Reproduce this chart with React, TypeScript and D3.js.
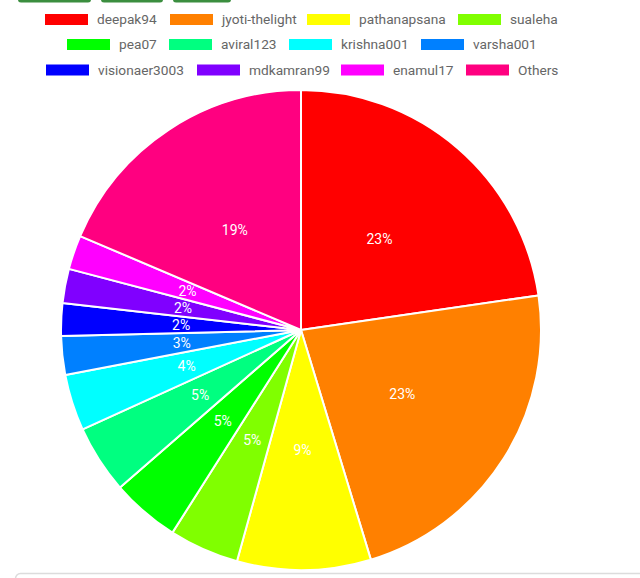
import React from "react";
import * as d3 from "d3";

const categories = [
  "deepak94", "jyoti-thelight", "pathanapsana", "sualeha",
  "pea07", "aviral123", "krishna001", "varsha001",
  "visionaer3003", "mdkamran99", "enamul17", "Others",
];
const values = [22.7, 22.6, 9.0, 4.7, 4.6, 4.6, 3.8, 2.6, 2.2, 2.3, 2.3, 18.6];
const colors = [
  "#ff0000", "#ff8000", "#ffff00", "#80ff00",
  "#00ff00", "#00ff80", "#00ffff", "#0080ff",
  "#0000ff", "#8000ff", "#ff00ff", "#ff0080",
];

const W = 640, H = 578;
const cx = 301, cy = 330, R = 240;
const boxW = 43, boxH = 11, boxGap = 9;
const legendY = [19.5, 44.5, 70];
const legendX = [[45, 170, 307, 458], [67, 169, 289, 421], [46, 197, 341, 466]];
const font = "Roboto, 'Noto Sans', sans-serif";

export default function App() {
  const total = d3.sum(values);
  const pie = d3.pie<number>().sort(null).value((d) => d);
  const arcs = pie(values);
  const arc = d3.arc<d3.PieArcDatum<number>>().innerRadius(0).outerRadius(R);
  const labelArc = d3.arc<d3.PieArcDatum<number>>().innerRadius(R / 2).outerRadius(R / 2);

  const legend = categories.map((c, i) => {
    const r = Math.floor(i / 4), k = i % 4;
    return { i, x: legendX[r][k], y: legendY[r] };
  });

  return (
    <svg width={W} height={H} style={{ position: "absolute", left: 0, top: 0, display: "block", background: "#fff" }}>
      {[[18, 91], [101, 163], [173, 231]].map(([a, b], k) => (
        <rect key={k} x={a} y={-8} width={b - a} height={10.5} rx={3} fill="#3b8e3f" />
      ))}
      {legend.map(({ i, x, y }) => (
        <g key={i}>
          <rect x={x} y={y - boxH / 2} width={boxW} height={boxH} fill={colors[i]} />
          <text x={x + boxW + boxGap} y={y} dy="0.35em" fontFamily={font} fontSize={13.7} fill="#666">
            {categories[i]}
          </text>
        </g>
      ))}
      <g transform={`translate(${cx},${cy})`}>
        {arcs.map((a, i) => (
          <path key={i} d={arc(a)!} fill={colors[i]} stroke="#fff" strokeWidth={2} strokeLinejoin="round" />
        ))}
        {arcs.map((a, i) => {
          const [lx, ly] = labelArc.centroid(a);
          return (
            <text key={i} x={lx} y={ly} dy="0.35em" textAnchor="middle" fontFamily={font} fontSize={14} fill="#fff">
              {Math.round((values[i] / total) * 100) + "%"}
            </text>
          );
        })}
      </g>
      <rect x={15.5} y={573.5} width={640} height={40} rx={5} fill="none" stroke="#dcdcdc" strokeWidth={1.5} />
    </svg>
  );
}
